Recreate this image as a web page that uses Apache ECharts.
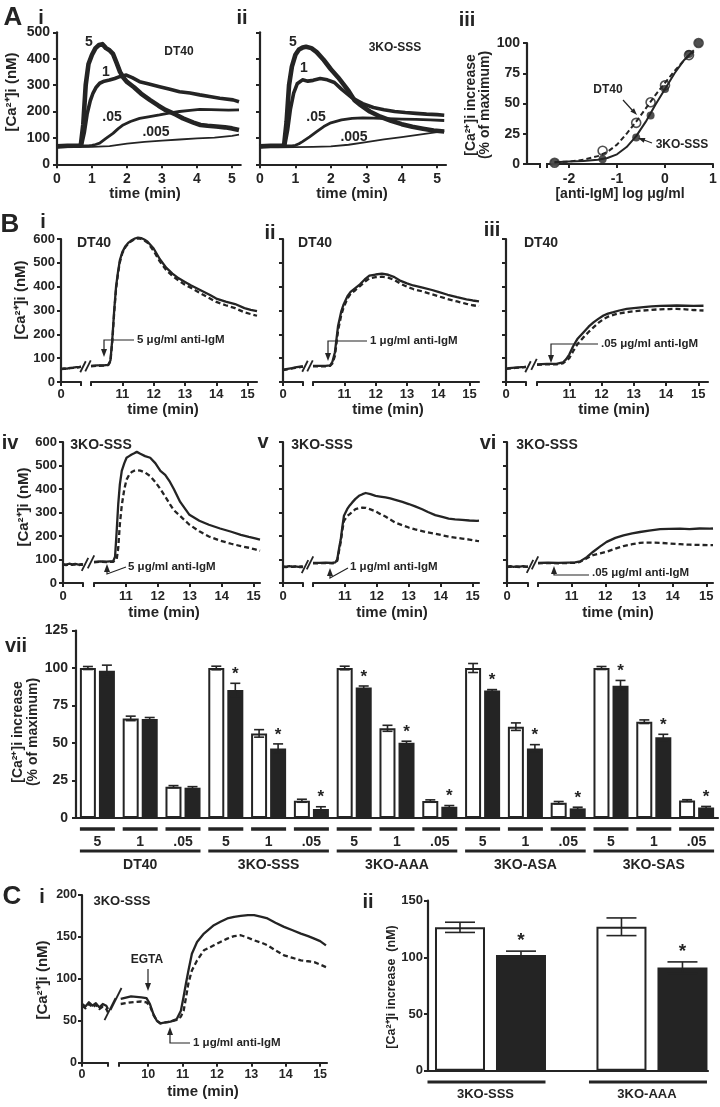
<!DOCTYPE html>
<html>
<head>
<meta charset="utf-8">
<title>Ca2+ responses</title>
<script src="https://cdn.jsdelivr.net/npm/echarts@6.0.0/dist/echarts.min.js"></script>
<style>
html,body{margin:0;padding:0;background:#fff;}
#chart{width:720px;height:1107px;}
</style>
</head>
<body>
<div id="chart"></div>
<script>
// ======================= DATA =======================
// ---- A i : DT40, [Ca2+]i (nM) vs time (min), anti-IgM 5 / 1 / .05 / .005 ug/ml
const aDT40_t5   = [0,0.3,0.6,0.68,0.75,0.82,0.9,1.0,1.1,1.2,1.3,1.4,1.5,1.6,1.7,1.8,1.9,2.0,2.2,2.4,2.65,2.9,3.1,3.4,3.6,3.9,4.1,4.3,4.55,4.8,5.0,5.2];
const aDT40_v5   = [68,70,70,72,150,300,380,415,440,452,455,440,432,418,385,350,328,312,292,268,244,222,206,188,174,158,149,146,143,140,136,130];
const aDT40_t1   = [0,0.3,0.6,0.7,0.78,0.86,0.95,1.03,1.12,1.22,1.35,1.5,1.65,1.79,1.98,2.15,2.36,2.6,2.93,3.2,3.5,3.8,4.08,4.4,4.65,5.03,5.2];
const aDT40_v1   = [68,70,70,72,120,190,240,270,292,307,315,319,325,332,338,328,313,305,294,285,275,270,263,256,250,244,237];
const aDT40_t05  = [0,0.3,0.6,0.9,1.0,1.1,1.22,1.4,1.6,1.75,1.89,2.1,2.36,2.65,2.93,3.2,3.5,3.8,4.08,4.4,4.65,4.9,5.2];
const aDT40_v05  = [68,70,70,70,72,75,80,98,117,135,149,162,174,181,187,194,200,204,208,207,206,205,206];
const aDT40_t005 = [0,0.5,1.0,1.5,2.0,2.5,3.0,3.5,4.0,4.5,5.0,5.2];
const aDT40_v005 = [64,65,66,69,78,85,90,94,98,101,108,112];
// ---- A ii : 3KO-SSS
const aSSS_t5   = [0,0.3,0.6,0.68,0.75,0.82,0.9,1.0,1.1,1.2,1.3,1.45,1.6,1.8,2.0,2.2,2.5,2.66,2.8,3.1,3.4,3.7,4.0,4.3,4.6,4.9,5.2];
const aSSS_v5   = [68,70,70,72,160,300,370,415,435,442,445,440,425,395,360,330,278,244,228,200,180,165,152,142,135,128,124];
const aSSS_t1   = [0,0.3,0.6,0.7,0.78,0.86,0.95,1.05,1.2,1.35,1.5,1.7,1.9,2.1,2.3,2.6,2.9,3.2,3.5,3.8,4.1,4.4,4.7,5.0,5.2];
const aSSS_v1   = [68,70,70,72,130,210,270,305,320,315,318,325,320,310,285,252,230,215,207,200,196,193,190,188,186];
const aSSS_t05  = [0,0.3,0.6,0.9,1.0,1.1,1.2,1.4,1.6,1.8,2.0,2.3,2.6,2.9,3.2,3.6,4.0,4.4,4.8,5.2];
const aSSS_v05  = [68,70,70,70,72,78,86,104,124,143,157,168,174,176,175,173,171,170,168,166];
const aSSS_t005 = [0,0.5,1.0,1.5,2.0,2.5,3.0,3.5,4.0,4.5,5.0,5.2];
const aSSS_v005 = [64,64,65,66,68,74,84,94,103,112,122,126];
// ---- A iii : dose response, % of maximum vs log anti-IgM
const doseLog  = [-2.3,-1.3,-0.6,-0.3,0,0.5,0.7];
const doseDT40 = [1,11,34,51,65,90,100];
const doseSSS  = [1,4,22,40,62,91,100];
const fitLog   = [-2.3,-2.0,-1.7,-1.4,-1.2,-1.0,-0.8,-0.6,-0.4,-0.2,0,0.2,0.4,0.6];
const fitDT40  = [1.5,2,3.5,6.5,10,16,25,35,46,57,67,77,86,93];
const fitSSS   = [1.5,2,2.5,3.5,5,8,14,23,35,49,62,75,86,94];

// ---- B traces: left segment (0 min) and right segment (10-15 min); solid / dashed
const seg0_t = [0,0.1,0.2,0.3,0.4,0.5,0.6,0.65];
// B i  DT40 5 ug/ml
const bi_sL = [55,57,56,59,60,62,63,64];
const bi_dL = [54,55,55,58,59,60,62,63];
const bi_tR = [10.0,10.2,10.4,10.55,10.62,10.68,10.74,10.8,10.86,10.92,11.0,11.1,11.2,11.3,11.4,11.5,11.6,11.7,11.8,11.9,12.0,12.2,12.4,12.6,12.8,13.0,13.2,13.5,13.8,14.0,14.3,14.6,14.9,15.1,15.3];
const bi_sR = [68,70,70,72,90,180,300,400,460,510,545,570,585,595,602,606,604,598,590,575,560,515,480,455,435,420,405,385,365,350,337,327,310,303,297];
const bi_dR = [66,68,69,71,85,170,290,390,452,502,540,566,582,592,600,603,600,594,585,568,550,505,470,445,425,408,395,372,350,336,322,310,292,285,278];
// B ii DT40 1 ug/ml
const bii_sL = [52,54,56,58,61,63,65,66];
const bii_dL = [50,52,55,57,59,61,63,64];
const bii_tR = [10.0,10.2,10.4,10.55,10.62,10.7,10.8,10.9,10.97,11.1,11.2,11.35,11.5,11.65,11.8,12.0,12.2,12.4,12.6,12.8,13.0,13.2,13.5,13.8,14.0,14.3,14.6,14.9,15.1,15.3];
const bii_sR = [68,68,68,70,85,125,235,295,323,360,378,394,410,430,446,451,455,450,440,424,414,405,396,386,378,366,356,347,342,338];
const bii_dR = [66,66,66,68,78,110,215,280,310,350,370,385,402,420,435,440,442,438,428,412,400,390,380,368,360,348,338,328,322,318];
// B iii DT40 .05 ug/ml
const biii_sL = [56,58,59,60,61,62,63,64];
const biii_dL = [55,56,58,59,60,61,62,62];
const biii_tR = [10.0,10.3,10.6,10.8,10.9,11.0,11.12,11.25,11.43,11.6,11.75,11.9,12.06,12.2,12.37,12.55,12.78,13.0,13.3,13.55,13.82,14.1,14.33,14.6,14.85,15.16];
const biii_sR = [74,76,76,82,95,115,150,180,207,232,250,265,279,287,293,300,307,310,314,317,319,320,321,320,319,320];
const biii_dR = [72,74,74,78,88,100,129,158,186,210,229,248,264,274,282,288,293,297,300,303,305,306,307,305,302,300];
// B iv 3KO-SSS 5 ug/ml
const biv_sL = [80,78,82,79,81,78,80,79];
const biv_dL = [78,76,79,77,79,76,78,77];
const biv_tR = [10.0,10.2,10.4,10.6,10.66,10.71,10.76,10.81,10.87,10.95,11.02,11.1,11.18,11.26,11.34,11.45,11.6,11.76,11.92,12.08,12.23,12.38,12.5,12.7,12.99,13.3,13.6,13.95,14.3,14.6,14.85,15.05,15.2];
const biv_sR = [90,92,91,93,112,220,337,420,477,510,533,540,547,552,558,550,540,533,510,477,460,430,400,345,290,265,248,232,218,205,196,190,185];
const biv_dR = [88,90,89,90,92,100,150,250,330,400,440,460,472,478,480,478,470,455,430,400,368,335,310,285,248,220,198,180,167,157,150,143,137];
// B v 3KO-SSS 1 ug/ml
const bv_sL = [71,69,72,70,71,69,71,70];
const bv_dL = [69,68,70,69,70,68,69,68];
const bv_tR = [10.0,10.2,10.4,10.6,10.7,10.76,10.82,10.87,10.92,10.97,11.07,11.15,11.23,11.33,11.44,11.55,11.65,11.8,11.96,12.1,12.27,12.42,12.58,12.8,13.0,13.2,13.42,13.6,13.83,14.05,14.25,14.45,14.67,14.9,15.14,15.2];
const bv_sR = [86,86,87,86,88,100,150,186,240,286,314,330,343,358,371,378,383,378,371,368,364,360,354,345,336,326,314,302,289,281,274,271,269,266,264,265];
const bv_dR = [84,84,85,84,86,95,140,175,225,264,285,293,303,314,318,321,320,313,305,294,283,270,257,246,236,228,221,215,210,203,197,193,189,185,179,178];
// B vi 3KO-SSS .05 ug/ml
const bvi_sL = [70,72,69,71,70,72,70,71];
const bvi_dL = [68,70,68,69,68,70,69,69];
const bvi_tR = [10.0,10.3,10.6,10.9,11.1,11.25,11.45,11.64,11.85,12.04,12.3,12.54,12.8,13.03,13.3,13.63,13.9,14.22,14.5,14.8,15.11,15.2];
const bvi_sR = [86,87,86,87,88,92,110,133,156,175,192,203,211,217,223,229,230,231,229,232,231,232];
const bvi_dR = [84,85,84,85,86,90,105,119,126,133,146,157,165,171,172,171,168,165,163,162,161,161];

// ---- B vii : % of maximum, open = first bar, filled = second bar
const viiGroups    = ['DT40','3KO-SSS','3KO-AAA','3KO-ASA','3KO-SAS'];
const viiDoses     = ['5','1','.05'];
const viiOpen      = [100,66.4,20.9, 100,56.4,11.5, 100,59.8,11.3, 100,60.9,10.2, 100,64.2,11.6];
const viiOpenErr   = [1,1.5,0.7, 1.2,2.5,1, 1.2,2,0.8, 3,2.5,0.8, 1,1.2,0.6];
const viiFilled    = [98.2,66,20.2, 85.3,46.4,6, 87,50.2,7.5, 85,46.4,6.4, 88.2,53.8,7];
const viiFilledErr = [3.7,1,0.7, 4.5,3,1.5, 1,1,0.8, 0.6,2.5,0.8, 3.5,2,0.7];
const viiSig       = [0,0,0, 1,1,1, 1,1,1, 1,1,1, 1,1,1];

// ---- C i : 3KO-SSS with EGTA
const cL_t     = [0,0.1,0.2,0.3,0.4,0.5,0.6,0.7,0.75];
const cL_solid = [70,67,72,68,71,66,70,68,64];
const cL_dash  = [68,65,70,66,69,64,67,64,60];
const cR_t     = [9.2,9.5,9.8,9.95,10.05,10.15,10.25,10.35,10.5,10.65,10.83,10.95,11.03,11.1,11.17,11.27,11.42,11.62,11.91,12.1,12.3,12.5,12.69,12.9,13.08,13.3,13.47,13.7,13.95,14.2,14.44,14.65,14.83,15.0,15.17];
const cR_solid = [76,79,78,77,70,58,50,47,48,49,52,62,79,95,110,130,144,154,164,168,172,174,175,176,176,174,172,167,162,158,154,151,148,145,140];
const cR_dash  = [70,72,73,72,68,57,50,47,48,49,51,55,62,78,95,110,122,134,140,144,148,151,152,149,146,143,140,134,128,125,122,121,120,117,114];
// ---- C ii : [Ca2+]i increase (nM)
const cGroups     = ['3KO-SSS','3KO-AAA'];
const cOpen       = [126.5,127];
const cOpenErr    = [4.5,7.8];
const cFilled     = [102,91];
const cFilledErr  = [3.5,5];
const cSig        = [1,1];

// ======================= BUILD =======================
const FONT = '"Liberation Sans", Arial, Helvetica, sans-serif';
const INK = '#242424';
const grids = [], xAxes = [], yAxes = [], series = [];
const zip = (t, v) => t.map((x, i) => [x, v[i]]);
const noSplit = {show: false};
const tickS = (cv) => { const o = {show: true, inside: false, length: 4, lineStyle: {color: INK, width: 2}}; if (cv) o.customValues = cv; return o; };
const lineS = (w) => ({show: true, onZero: false, lineStyle: {color: INK, width: w || 2.2}});
const labS = (size, margin, cv, show) => { const o = {show: show !== false, fontFamily: FONT, fontWeight: 'bold', fontSize: size, color: INK, margin: margin}; if (cv) o.customValues = cv; return o; };

function addGrid(x0, x1, y0, y1) {
  grids.push({left: x0, top: y0, width: x1 - x0, height: y1 - y0, containLabel: false, outerBoundsMode: 'none'});
  return grids.length - 1;
}
function addX(o) { xAxes.push(Object.assign({type: 'value', splitLine: noSplit}, o)); return xAxes.length - 1; }
function addY(o) { yAxes.push(Object.assign({type: 'value', splitLine: noSplit}, o)); return yAxes.length - 1; }
function addLine(xi, yi, t, v, w, dashed) {
  series.push({type: 'line', xAxisIndex: xi, yAxisIndex: yi, data: zip(t, v), showSymbol: false, symbol: 'none',
    silent: true, clip: false, lineStyle: {color: INK, width: w, type: dashed ? [5, 3] : 'solid', join: 'round'}});
}

// ---- Panel A i / ii
function timePanelA(x0, x1, labels, sets) {
  const g = addGrid(x0, x1, 32.3, 164.3);
  const xi = addX({gridIndex: g, min: 0, max: 5.25, axisLine: lineS(), axisTick: tickS([0,1,2,3,4,5]), axisLabel: labS(14, 8, [0,1,2,3,4,5])});
  const yi = addY({gridIndex: g, min: 0, max: 500, interval: 100, axisLine: lineS(), axisTick: tickS(), axisLabel: labS(14, 7, null, labels)});
  sets.forEach(s => addLine(xi, yi, s[0], s[1], s[2], false));
}
timePanelA(57, 240.75, true, [[aDT40_t005, aDT40_v005, 1.8], [aDT40_t05, aDT40_v05, 2.8], [aDT40_t1, aDT40_v1, 3.6], [aDT40_t5, aDT40_v5, 4.6]]);
timePanelA(260, 446, false, [[aSSS_t005, aSSS_v005, 1.8], [aSSS_t05, aSSS_v05, 2.8], [aSSS_t1, aSSS_v1, 3.6], [aSSS_t5, aSSS_v5, 4.6]]);

// ---- Panel A iii
const gA3 = addGrid(527, 713, 43, 164);
const xA3 = addX({gridIndex: gA3, min: -2.875, max: 1, axisLine: lineS(), axisTick: tickS([-2.6,-2.46,-2,-1,0,1]), axisLabel: labS(14, 8, [-2,-1,0,1])});
const yA3 = addY({gridIndex: gA3, min: 0, max: 100, interval: 25, axisLine: lineS(), axisTick: tickS(), axisLabel: labS(14, 7)});
addLine(xA3, yA3, fitLog, fitDT40, 2, true);
addLine(xA3, yA3, fitLog, fitSSS, 2, false);
series.push({type: 'scatter', xAxisIndex: xA3, yAxisIndex: yA3, data: zip(doseLog, doseDT40), symbol: 'circle', symbolSize: 9, silent: true,
  itemStyle: {color: '#fff', borderColor: INK, borderWidth: 1.6}});
series.push({type: 'scatter', xAxisIndex: xA3, yAxisIndex: yA3, data: zip(doseLog, doseSSS), symbol: 'circle', symbolSize: 8, silent: true,
  itemStyle: {color: INK}});

// ---- Broken time panels (B i-vi, C i)
const brokenPanels = [];
function addBroken(p) {
  const gl = addGrid(p.L[0], p.L[1], p.top, p.bottom);
  const gr = addGrid(p.R[0], p.R[1], p.top, p.bottom);
  const xl = addX({gridIndex: gl, min: 0, max: p.lMax, axisLine: lineS(), axisTick: tickS([0, p.lMax]), axisLabel: labS(p.xs, p.xm, [0])});
  const xr = addX({gridIndex: gr, min: p.rMin, max: p.rMax, axisLine: lineS(), axisTick: tickS([p.rMin].concat(p.xt)), axisLabel: labS(p.xs, p.xm, p.xt)});
  const yl = addY({gridIndex: gl, min: 0, max: p.yMax, interval: p.yStep, axisLine: lineS(), axisTick: tickS(), axisLabel: labS(p.ys, p.ym, null, p.yLabels)});
  const yr = addY({gridIndex: gr, min: 0, max: p.yMax, show: false});
  addLine(xl, yl, p.tL, p.dL, p.w, true); addLine(xl, yl, p.tL, p.sL, p.w, false);
  addLine(xr, yr, p.tR, p.dR, p.w, true); addLine(xr, yr, p.tR, p.sR, p.w, false);
  brokenPanels.push({gl: gl, gr: gr, p: p});
}
const bTicks = [11,12,13,14,15];
const row1 = {top: 239, bottom: 382, lMax: 0.65, rMin: 10, rMax: 15.3, yMax: 600, yStep: 100, xs: 13, xm: 6, ys: 13, ym: 6, xt: bTicks, w: 2.3, slashH: 11};
const row2 = {top: 442, bottom: 583, lMax: 0.65, rMin: 10, rMax: 15.2, yMax: 600, yStep: 100, xs: 13, xm: 7, ys: 13, ym: 6, xt: bTicks, w: 2.3, slashH: 13};
addBroken(Object.assign({}, row1, {L: [61, 81], R: [91, 257], yLabels: true, tL: seg0_t, sL: bi_sL, dL: bi_dL, tR: bi_tR, sR: bi_sR, dR: bi_dR}));
addBroken(Object.assign({}, row1, {L: [283, 303], R: [313, 479], yLabels: false, tL: seg0_t, sL: bii_sL, dL: bii_dL, tR: bii_tR, sR: bii_sR, dR: bii_dR}));
addBroken(Object.assign({}, row1, {L: [506, 526], R: [537, 708], yLabels: false, tL: seg0_t, sL: biii_sL, dL: biii_dL, tR: biii_tR, sR: biii_sR, dR: biii_dR}));
addBroken(Object.assign({}, row2, {L: [63, 83], R: [94, 260], yLabels: true, tL: seg0_t, sL: biv_sL, dL: biv_dL, tR: biv_tR, sR: biv_sR, dR: biv_dR}));
addBroken(Object.assign({}, row2, {L: [283, 303], R: [313, 479], yLabels: false, tL: seg0_t, sL: bv_sL, dL: bv_dL, tR: bv_tR, sR: bv_sR, dR: bv_dR}));
addBroken(Object.assign({}, row2, {L: [507, 528], R: [538, 713], yLabels: false, tL: seg0_t, sL: bvi_sL, dL: bvi_dL, tR: bvi_tR, sR: bvi_sR, dR: bvi_dR}));
addBroken({top: 895, bottom: 1062.7, L: [82, 108], R: [119, 327], lMax: 0.75, rMin: 9.15, rMax: 15.2, yMax: 200, yStep: 50,
  xs: 12.5, xm: 5, ys: 12.5, ym: 5, xt: [10,11,12,13,14,15], w: 2.3, slashH: 22, yLabels: true,
  tL: cL_t, sL: cL_solid, dL: cL_dash, tR: cR_t, sR: cR_solid, dR: cR_dash});

// ---- error bar renderer
function errRender(off, cap, starGap, starSize) {
  return function (params, api) {
    const i = api.value(0);
    const cx = api.coord([i, 0])[0];
    const kids = [];
    const pairs = [[api.value(1), api.value(2), -off], [api.value(3), api.value(4), off]];
    pairs.forEach(function (q) {
      const x = cx + q[2];
      const yt = api.coord([i, q[0] + q[1]])[1], yb = api.coord([i, q[0] - q[1]])[1];
      const st = {stroke: INK, lineWidth: 1.6};
      kids.push({type: 'line', shape: {x1: x, y1: yt, x2: x, y2: yb}, style: st});
      kids.push({type: 'line', shape: {x1: x - cap, y1: yt, x2: x + cap, y2: yt}, style: st});
      kids.push({type: 'line', shape: {x1: x - cap, y1: yb, x2: x + cap, y2: yb}, style: st});
    });
    if (api.value(5)) {
      const yt = api.coord([i, api.value(3) + api.value(4)])[1];
      kids.push({type: 'text', style: {text: '*', x: cx + off, y: yt - starGap, align: 'center', verticalAlign: 'middle',
        font: 'bold ' + starSize + 'px ' + FONT, fill: INK}});
    }
    return {type: 'group', children: kids};
  };
}

// ---- B vii bars
const viiCats = [];
viiGroups.forEach(g => viiDoses.forEach(d => viiCats.push(g + '|' + d)));
const gV = addGrid(76, 718, 630.5, 818);
const xV = addX({type: 'category', gridIndex: gV, data: viiCats, axisLine: lineS(), axisTick: {show: false},
  axisLabel: Object.assign(labS(14, 17), {interval: 0, formatter: v => v.split('|')[1]})});
const yV = addY({gridIndex: gV, min: 0, max: 125, interval: 25, axisLine: lineS(), axisTick: tickS(), axisLabel: labS(14, 8)});
series.push({type: 'bar', xAxisIndex: xV, yAxisIndex: yV, data: viiOpen, barWidth: 16, barGap: '19%', silent: true,
  itemStyle: {color: '#fff', borderColor: INK, borderWidth: 2}});
series.push({type: 'bar', xAxisIndex: xV, yAxisIndex: yV, data: viiFilled, barWidth: 16, barGap: '19%', silent: true,
  itemStyle: {color: INK}});
series.push({type: 'custom', xAxisIndex: xV, yAxisIndex: yV, silent: true, z: 5,
  data: viiOpen.map((v, i) => [i, v, viiOpenErr[i], viiFilled[i], viiFilledErr[i], viiSig[i]]),
  renderItem: errRender(9.5, 5, 9, 17)});

// ---- C ii bars
const gC2 = addGrid(428, 708, 900.7, 1070.7);
const xC2 = addX({gridIndex: gC2, min: -0.387, max: 1.347, axisLine: lineS(), axisTick: {show: false}, axisLabel: {show: false}});
const yC2 = addY({gridIndex: gC2, min: 0, max: 150, interval: 50, axisLine: lineS(), axisTick: tickS(), axisLabel: labS(13, 5)});
series.push({type: 'bar', xAxisIndex: xC2, yAxisIndex: yC2, data: cOpen.map((v, i) => [i, v]), barWidth: 50, barGap: '22%', silent: true,
  itemStyle: {color: '#fff', borderColor: INK, borderWidth: 2}});
series.push({type: 'bar', xAxisIndex: xC2, yAxisIndex: yC2, data: cFilled.map((v, i) => [i, v]), barWidth: 50, barGap: '22%', silent: true,
  itemStyle: {color: INK}});
series.push({type: 'custom', xAxisIndex: xC2, yAxisIndex: yC2, silent: true, z: 5,
  data: cOpen.map((v, i) => [i, v, cOpenErr[i], cFilled[i], cFilledErr[i], cSig[i]]),
  renderItem: errRender(30.5, 15, 10, 19)});

// ======================= GRAPHIC HELPERS =======================
function txt(text, x, y, size, o) {
  o = o || {};
  return {type: 'text', x: x, y: y, rotation: o.rot || 0, z: 100, silent: true,
    style: {text: text, font: (o.normal ? '' : 'bold ') + size + 'px ' + FONT, fill: INK, align: o.align || 'center', verticalAlign: o.va || 'middle'}};
}
function pl(points, w) { return {type: 'polyline', z: 100, silent: true, shape: {points: points}, style: {stroke: INK, lineWidth: w || 1.2, fill: null}}; }
function head(x, y, ang, len, wid) {
  const bx = x - len * Math.cos(ang), by = y - len * Math.sin(ang);
  const px = -Math.sin(ang) * wid / 2, py = Math.cos(ang) * wid / 2;
  return {type: 'polygon', z: 100, silent: true, shape: {points: [[x, y], [bx + px, by + py], [bx - px, by - py]]}, style: {fill: INK}};
}
function hline(x1, x2, y, w) { return {type: 'line', z: 100, silent: true, shape: {x1: x1, y1: y, x2: x2, y2: y}, style: {stroke: INK, lineWidth: w}}; }
function slash(x, y, h) { return {type: 'line', z: 100, silent: true, shape: {x1: x - h * 0.25, y1: y + h / 2, x2: x + h * 0.25, y2: y - h / 2}, style: {stroke: INK, lineWidth: 1.8}}; }
const CA = '[Ca\u00b2\u207a]i';
const MU = '\u03bcg/ml anti-IgM';
const DOWN = Math.PI / 2, UP = -Math.PI / 2;

const staticG = [
  // panel letters
  txt('A', 13, 18, 26), txt('i', 41, 18, 20), txt('ii', 242, 18, 20), txt('iii', 467, 20, 20),
  txt('B', 10, 225, 26), txt('i', 43, 222, 20), txt('ii', 270, 233, 20), txt('iii', 492, 230, 20),
  txt('iv', 10, 443, 20), txt('v', 263, 442, 20), txt('vi', 488, 443, 20), txt('vii', 16, 646, 20),
  txt('C', 12, 897, 26), txt('i', 42, 897, 20), txt('ii', 368, 902, 20),
  // A i / ii
  txt(CA + ' (nM)', 12, 92, 15, {rot: Math.PI / 2}),
  txt('time (min)', 145, 194, 15), txt('time (min)', 352, 194, 15),
  txt('5', 89, 42, 14), txt('1', 106, 72, 14), txt('.05', 112, 117, 14), txt('.005', 156, 132, 14), txt('DT40', 179, 52, 12),
  txt('5', 293, 42, 14), txt('1', 304, 68, 14), txt('.05', 316, 117, 14), txt('.005', 354, 137, 14), txt('3KO-SSS', 395, 48, 12),
  // A iii
  txt(CA + ' increase', 471, 105, 14, {rot: Math.PI / 2}), txt('(% of maximum)', 485, 105, 14, {rot: Math.PI / 2}),
  txt('[anti-IgM] log \u03bcg/ml', 620, 194, 14),
  txt('DT40', 608, 90, 12), pl([[623, 100], [633, 111]], 1.2), head(637, 115, Math.atan2(15, 14), 7, 5),
  txt('3KO-SSS', 682, 145, 12), pl([[652, 143], [644, 140]], 1.2), head(638, 138, Math.atan2(-5, -14), 7, 5),
  {type: 'rect', z: 100, silent: true, shape: {x: 541, y: 161.5, width: 5, height: 5}, style: {fill: '#fff'}},
  // B row 1
  txt(CA + ' (nM)', 21, 300, 15, {rot: Math.PI / 2}),
  txt('DT40', 94, 243, 14), txt('DT40', 315, 243, 14), txt('DT40', 541, 243, 14),
  txt('time (min)', 163, 410, 15), txt('time (min)', 388, 410, 15), txt('time (min)', 614, 410, 15),
  pl([[104, 350], [104, 340], [134, 340]]), head(104, 357, DOWN, 8, 6), txt('5 ' + MU, 137, 340, 11.5, {align: 'left'}),
  pl([[328, 354], [328, 341], [367, 341]]), head(328, 361, DOWN, 8, 6), txt('1 ' + MU, 370, 341, 11.5, {align: 'left'}),
  pl([[551, 356], [551, 344], [598, 344]]), head(551, 363, DOWN, 8, 6), txt('.05 ' + MU, 601, 344, 11.5, {align: 'left'}),
  // B row 2
  txt(CA + ' (nM)', 24, 507, 15, {rot: Math.PI / 2}),
  txt('3KO-SSS', 101, 445, 14), txt('3KO-SSS', 322, 445, 14), txt('3KO-SSS', 547, 445, 14),
  txt('time (min)', 164, 613, 15), txt('time (min)', 392, 613, 15), txt('time (min)', 618, 613, 15),
  pl([[107, 570], [107, 574], [126, 567]]), head(107, 564, UP, 8, 6), txt('5 ' + MU, 128, 567, 11.5, {align: 'left'}),
  pl([[330, 575], [330, 578], [348, 568]]), head(330, 568, UP, 8, 6), txt('1 ' + MU, 350, 567, 11.5, {align: 'left'}),
  pl([[554, 573], [554, 575], [589, 575]]), head(554, 566, UP, 8, 6), txt('.05 ' + MU, 592, 573, 11.5, {align: 'left'}),
  // B vii
  txt(CA + ' increase', 18, 732, 14, {rot: Math.PI / 2}), txt('(% of maximum)', 33, 732, 14, {rot: Math.PI / 2}),
  // C i
  txt(CA + ' (nM)', 43, 980, 15, {rot: Math.PI / 2}),
  txt('3KO-SSS', 122, 901, 13), txt('time (min)', 203, 1092, 15),
  txt('EGTA', 147, 960, 12), pl([[148, 969], [148, 984]]), head(148, 991, DOWN, 8, 6),
  pl([[170, 1034], [170, 1043], [190, 1043]]), head(170, 1027, UP, 8, 6), txt('1 ' + MU, 193, 1043, 11.5, {align: 'left'}),
  // C ii
  txt(CA + ' increase  (nM)', 392, 987, 12.5, {rot: Math.PI / 2})
];

// ======================= RENDER =======================
const chart = echarts.init(document.getElementById('chart'), null, {renderer: 'canvas', width: 720, height: 1107});
chart.setOption({animation: false, grid: grids, xAxis: xAxes, yAxis: yAxes, series: series});

const dyn = [];
brokenPanels.forEach(function (b) {
  const p = b.p;
  const a = chart.convertToPixel({gridIndex: b.gl}, [p.lMax, p.sL[p.sL.length - 1]]);
  const c = chart.convertToPixel({gridIndex: b.gr}, [p.rMin, p.sR[0]]);
  dyn.push(slash(a[0] + 2, a[1], p.slashH), slash(c[0] - 3, c[1], p.slashH));
});
viiGroups.forEach(function (gname, gi) {
  let first = null, last = null;
  viiDoses.forEach(function (d, di) {
    const cx = chart.convertToPixel({xAxisIndex: xV}, gi * viiDoses.length + di);
    dyn.push(hline(cx - 17.5, cx + 17.5, 829, 3.5));
    if (first === null) first = cx;
    last = cx;
  });
  dyn.push(hline(first - 17.5, last + 17.5, 851, 3));
  dyn.push(txt(gname, (first + last) / 2, 865, 14));
});
cGroups.forEach(function (gname, i) {
  const cx = chart.convertToPixel({xAxisIndex: xC2}, i);
  dyn.push(hline(cx - 63, cx + 55, 1082, 3));
  dyn.push(txt(gname, cx - 5, 1094, 13));
});
chart.setOption({graphic: {elements: staticG.concat(dyn)}});
</script>
</body>
</html>
